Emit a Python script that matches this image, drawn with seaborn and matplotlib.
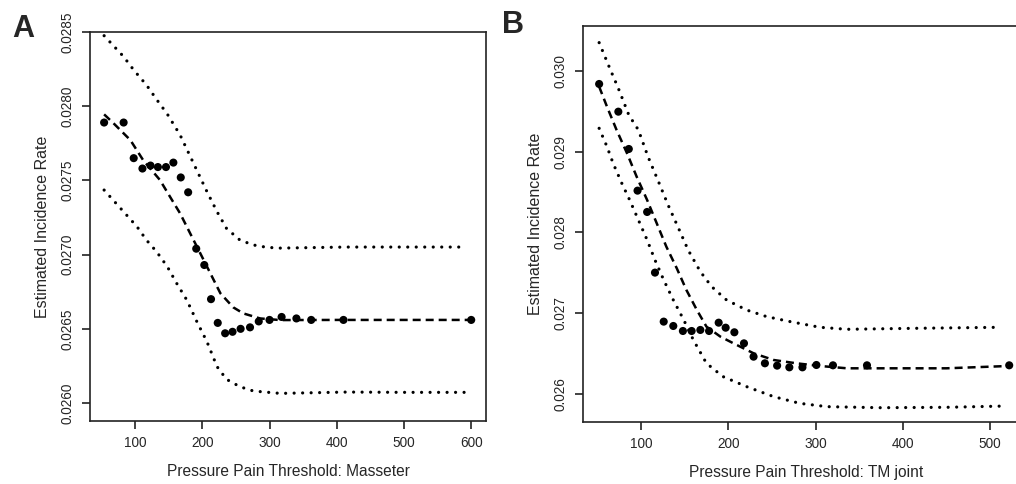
import matplotlib
matplotlib.use("Agg")
import matplotlib.pyplot as plt
import seaborn as sns

# Panel A: Masseter
a_pts_x = [54, 83, 98, 111, 123, 134, 146, 157, 168, 179, 191, 203, 213, 223, 234,
           245, 257, 271, 284, 300, 318, 340, 362, 410, 600]
a_pts_y = [0.02789, 0.02789, 0.02765, 0.02758, 0.02760, 0.02759, 0.02759, 0.02762,
           0.02752, 0.02742, 0.02704, 0.02693, 0.02670, 0.02654, 0.02647, 0.02648,
           0.02650, 0.02651, 0.02655, 0.02656, 0.02658, 0.02657, 0.02656, 0.02656, 0.02656]

a_fit_x = [54, 68, 93, 112, 137, 152, 167, 182, 197, 212, 227, 246, 261, 286, 316, 400, 500, 600]
a_fit_y = [0.027945, 0.027885, 0.027772, 0.027637, 0.027503, 0.027390, 0.027278, 0.027143,
           0.027009, 0.026874, 0.026739, 0.026645, 0.026604, 0.026570, 0.026559, 0.026560,
           0.026560, 0.026560]

a_up_x = [54, 83, 98, 117, 132, 148, 167, 187, 207, 222, 236, 256, 276, 296, 316, 415, 500, 592]
a_up_y = [0.028475, 0.028334, 0.028244, 0.028143, 0.028046, 0.027947, 0.027806, 0.027615,
          0.027424, 0.027289, 0.027177, 0.027098, 0.027065, 0.027049, 0.027044, 0.027051,
          0.027051, 0.027051]

a_lo_x = [54, 83, 103, 117, 132, 148, 162, 177, 192, 207, 222, 236, 256, 276, 316, 415, 500, 598]
a_lo_y = [0.027435, 0.027289, 0.027188, 0.027098, 0.027020, 0.026919, 0.026806, 0.026694,
          0.026548, 0.026413, 0.026245, 0.026160, 0.026110, 0.026081, 0.026065, 0.026074,
          0.026072, 0.026072]

# Panel B: TM joint
b_pts_x = [52, 74, 86, 96, 107, 116, 126, 137, 148, 158, 168, 178, 189, 197, 207,
           218, 229, 242, 256, 270, 285, 301, 320, 359, 522]
b_pts_y = [0.029839, 0.029496, 0.029034, 0.028518, 0.028254, 0.027503, 0.026896, 0.026842,
           0.026780, 0.026780, 0.026793, 0.026780, 0.026883, 0.026821, 0.026764, 0.026627,
           0.026462, 0.026380, 0.026351, 0.026330, 0.026330, 0.026359, 0.026355, 0.026355,
           0.026355]

b_fit_x = [52, 61, 72, 84, 95, 107, 118, 129, 141, 152, 164, 175, 191, 206, 229, 252,
           278, 305, 336, 374, 450, 522]
b_fit_y = [0.029806, 0.029558, 0.029269, 0.028980, 0.028691, 0.028402, 0.028114, 0.027825,
           0.027556, 0.027288, 0.027040, 0.026834, 0.026710, 0.026627, 0.026504, 0.026421,
           0.026380, 0.026347, 0.026318, 0.026318, 0.026318, 0.026347]

b_up_x = [52, 65, 74, 86, 97, 108, 120, 131, 143, 154, 168, 181, 198, 221, 244, 271,
          305, 336, 412, 513]
b_up_y = [0.030351, 0.030012, 0.029785, 0.029455, 0.029269, 0.028939, 0.028630, 0.028341,
          0.028052, 0.027783, 0.027515, 0.027329, 0.027164, 0.027040, 0.026958, 0.026896,
          0.026826, 0.026801, 0.026813, 0.026826]

b_lo_x = [52, 61, 68, 78, 87, 97, 107, 116, 126, 137, 149, 160, 175, 194, 221, 252,
          282, 313, 374, 450, 519]
b_lo_y = [0.029290, 0.029063, 0.028857, 0.028609, 0.028402, 0.028155, 0.027907, 0.027659,
          0.027412, 0.027164, 0.026916, 0.026669, 0.026380, 0.026215, 0.026091, 0.025967,
          0.025884, 0.025843, 0.025830, 0.025835, 0.025851]

a_yticks = [0.0260, 0.0265, 0.0270, 0.0275, 0.0280, 0.0285]
a_yticklabels = ["0.0260", "0.0265", "0.0270", "0.0275", "0.0280", "0.0285"]
b_yticks = [0.026, 0.027, 0.028, 0.029, 0.030]
b_yticklabels = ["0.026", "0.027", "0.028", "0.029", "0.030"]
a_xticks = [100, 200, 300, 400, 500, 600]
b_xticks = [100, 200, 300, 400, 500]

sns.set_style("ticks")
plt.rcParams["font.family"] = ["Liberation Sans", "DejaVu Sans"]

fig = plt.figure(figsize=(10.16, 4.84), dpi=100)
ax_a = fig.add_axes([90 / 1016, 63 / 484, 396 / 1016, 389 / 484])
ax_b = fig.add_axes([583 / 1016, 62 / 484, 445.4 / 1016, 396 / 484])

dot_style = dict(color="black", lw=2.3, linestyle=(0, (0.01, 2.65)), dash_capstyle="round")
dash_style = dict(color="black", lw=1.8, linestyle=(0, (3.2, 2.0)))


def draw_panel(ax, px, py, fx, fy, ux, uy, lx, ly):
    sns.lineplot(x=ux, y=uy, ax=ax, **dot_style)
    sns.lineplot(x=lx, y=ly, ax=ax, **dot_style)
    sns.lineplot(x=fx, y=fy, ax=ax, **dash_style)
    sns.scatterplot(x=px, y=py, ax=ax, color="black", s=34, edgecolor="none", zorder=5)


draw_panel(ax_a, a_pts_x, a_pts_y, a_fit_x, a_fit_y, a_up_x, a_up_y, a_lo_x, a_lo_y)
draw_panel(ax_b, b_pts_x, b_pts_y, b_fit_x, b_fit_y, b_up_x, b_up_y, b_lo_x, b_lo_y)

ax_a.set_xlim(33, 622)
ax_a.set_ylim(0.025879, 0.0285)
ax_b.set_xlim(33.5, 544)
ax_b.set_ylim(0.025653, 0.030557)

for ax, yt, ytl, xt, xl in [
    (ax_a, a_yticks, a_yticklabels, a_xticks, "Pressure Pain Threshold: Masseter"),
    (ax_b, b_yticks, b_yticklabels, b_xticks, "Pressure Pain Threshold: TM joint"),
]:
    ax.set_yticks(yt)
    ax.set_yticklabels(ytl, rotation=90, va="center")
    ax.set_xticks(xt)
    ax.set_xlabel(xl, fontsize=11.2, labelpad=10)
    ax.set_ylabel("Estimated Incidence Rate", fontsize=11.5, labelpad=8)
    ax.tick_params(length=6, width=1.2, labelsize=9.8, pad=5, color="#222222")
    for s in ax.spines.values():
        s.set_visible(True)
        s.set_linewidth(1.2)
        s.set_color("#222222")

fig.text(12 / 1016, 1 - 37 / 484, "A", fontsize=22, fontweight="bold")
fig.text(502 / 1016, 1 - 33 / 484, "B", fontsize=22, fontweight="bold")

fig.savefig("out.png", dpi=100)
